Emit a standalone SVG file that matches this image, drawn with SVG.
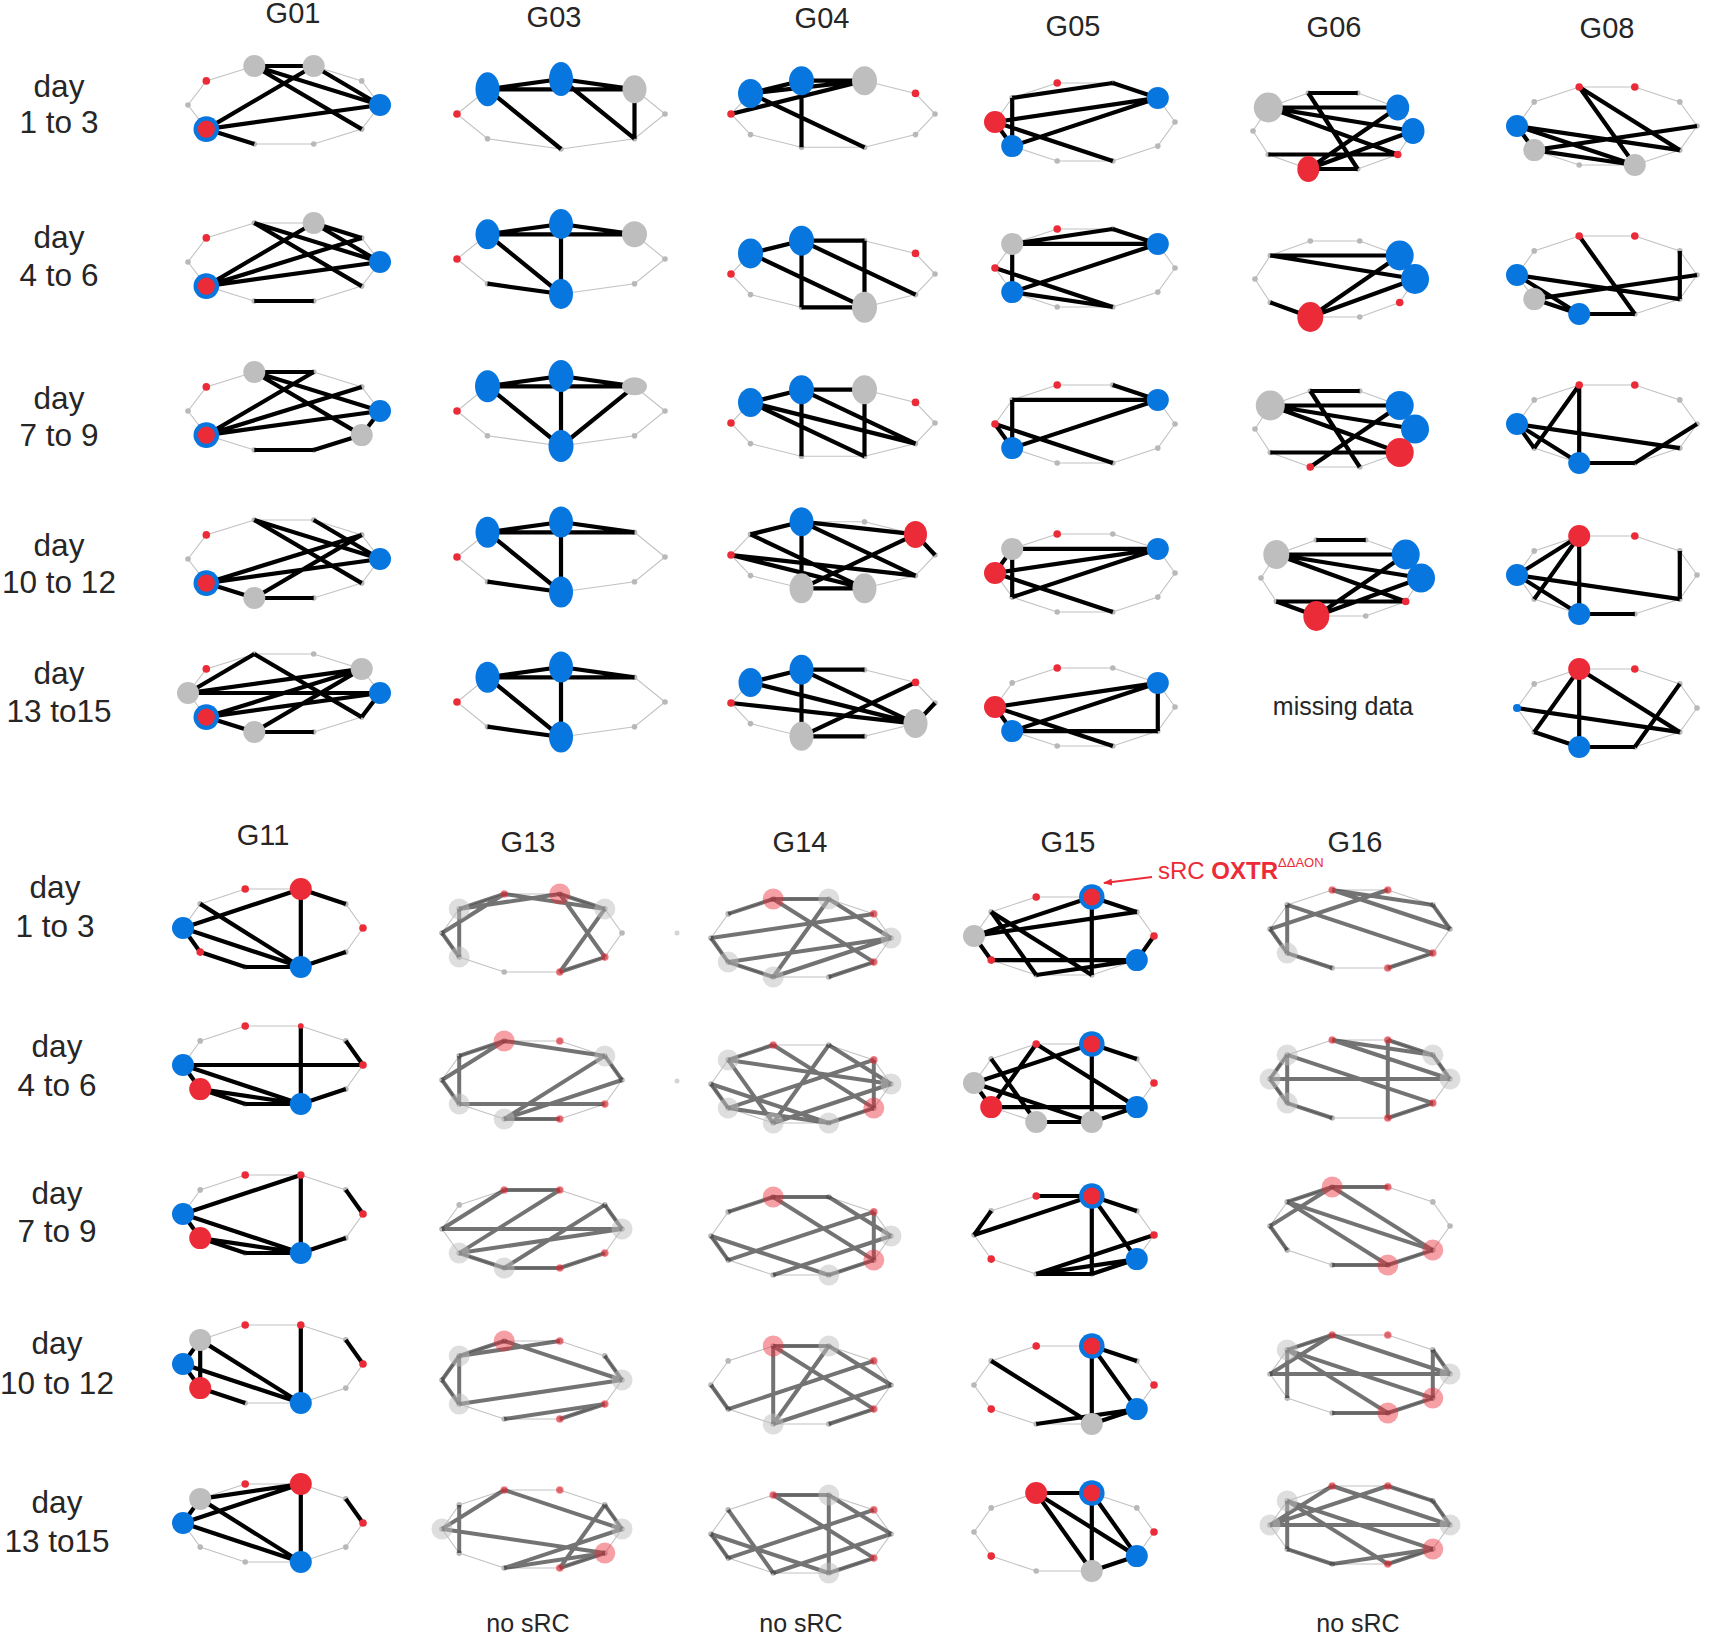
<svg xmlns="http://www.w3.org/2000/svg" width="1723" height="1634" viewBox="0 0 1723 1634">
<style>
text{font-family:"Liberation Sans",Arial,sans-serif;fill:#262626}
.ttl{font-size:29px;text-anchor:middle}
.row{font-size:31.5px;text-anchor:middle}
.note{font-size:25px;text-anchor:middle}
.ring{fill:none;stroke:#c2c2c2;stroke-width:1.1}
.sd{fill:#b8b8b8}
.e{fill:none;stroke:#000;stroke-width:4.2}
.et{fill:none;stroke:#000;stroke-opacity:.55;stroke-width:4}
.b{fill:#0876df}
.g{fill:#bebebe}
.r{fill:#ec2b38}
.rs{fill:#ec2b38}
.lg{fill:#bebebe;fill-opacity:.5}
.lp{fill:#ec2b38;fill-opacity:.45}
.ps{fill:#ec2b38;fill-opacity:.6}
.fd{fill:#d4d4d4}
</style>
<defs>
<polygon id="ringA" class="ring" points="90,0 72.8,-24.1 27.8,-39 -27.8,-39 -72.8,-24.1 -90,0 -72.8,24.1 -27.8,39 27.8,39 72.8,24.1"/>
<polygon id="ringB" class="ring" points="96,0 77.7,-24.1 29.7,-39 -29.7,-39 -77.7,-24.1 -96,0 -77.7,24.1 -29.7,39 29.7,39 77.7,24.1"/>
<polygon id="ringC" class="ring" points="102,0 82.5,-20.6 31.5,-33.3 -31.5,-33.3 -82.5,-20.6 -102,0 -82.5,20.6 -31.5,33.3 31.5,33.3 82.5,20.6"/>
<polygon id="ringD" class="ring" points="80,0 64.7,-23.5 24.7,-38 -24.7,-38 -64.7,-23.5 -80,0 -64.7,23.5 -24.7,38 24.7,38 64.7,23.5"/>
<polygon id="ringO" class="ring" points="104,0 73.5,-24.7 0,-35 -73.5,-24.7 -104,0 -73.5,24.7 0,35 73.5,24.7"/>
<g id="dotsA" class="sd"><circle cx="90" cy="0" r="2.8"/><circle cx="72.8" cy="-24.1" r="2.8"/><circle cx="27.8" cy="-39" r="2.8"/><circle cx="-27.8" cy="-39" r="2.8"/><circle cx="-72.8" cy="-24.1" r="2.8"/><circle cx="-90" cy="0" r="2.8"/><circle cx="-72.8" cy="24.1" r="2.8"/><circle cx="-27.8" cy="39" r="2.8"/><circle cx="27.8" cy="39" r="2.8"/><circle cx="72.8" cy="24.1" r="2.8"/></g>
<g id="dotsB" class="sd"><circle cx="96" cy="0" r="2.8"/><circle cx="77.7" cy="-24.1" r="2.8"/><circle cx="29.7" cy="-39" r="2.8"/><circle cx="-29.7" cy="-39" r="2.8"/><circle cx="-77.7" cy="-24.1" r="2.8"/><circle cx="-96" cy="0" r="2.8"/><circle cx="-77.7" cy="24.1" r="2.8"/><circle cx="-29.7" cy="39" r="2.8"/><circle cx="29.7" cy="39" r="2.8"/><circle cx="77.7" cy="24.1" r="2.8"/></g>
<g id="dotsC" class="sd"><circle cx="102" cy="0" r="2.8"/><circle cx="82.5" cy="-20.6" r="2.8"/><circle cx="31.5" cy="-33.3" r="2.8"/><circle cx="-31.5" cy="-33.3" r="2.8"/><circle cx="-82.5" cy="-20.6" r="2.8"/><circle cx="-102" cy="0" r="2.8"/><circle cx="-82.5" cy="20.6" r="2.8"/><circle cx="-31.5" cy="33.3" r="2.8"/><circle cx="31.5" cy="33.3" r="2.8"/><circle cx="82.5" cy="20.6" r="2.8"/></g>
<g id="dotsD" class="sd"><circle cx="80" cy="0" r="2.8"/><circle cx="64.7" cy="-23.5" r="2.8"/><circle cx="24.7" cy="-38" r="2.8"/><circle cx="-24.7" cy="-38" r="2.8"/><circle cx="-64.7" cy="-23.5" r="2.8"/><circle cx="-80" cy="0" r="2.8"/><circle cx="-64.7" cy="23.5" r="2.8"/><circle cx="-24.7" cy="38" r="2.8"/><circle cx="24.7" cy="38" r="2.8"/><circle cx="64.7" cy="23.5" r="2.8"/></g>
<g id="dotsO" class="sd"><circle cx="104" cy="0" r="2.8"/><circle cx="73.5" cy="-24.7" r="2.8"/><circle cx="0" cy="-35" r="2.8"/><circle cx="-73.5" cy="-24.7" r="2.8"/><circle cx="-104" cy="0" r="2.8"/><circle cx="-73.5" cy="24.7" r="2.8"/><circle cx="0" cy="35" r="2.8"/><circle cx="73.5" cy="24.7" r="2.8"/></g>
<circle id="nb" class="b" r="11"/>
<circle id="ng" class="g" r="11"/>
<circle id="nr" class="r" r="11"/>
<circle id="nrs" class="rs" r="3.8"/>
<g id="nrb"><circle class="b" r="12.8"/><circle class="r" r="8.6"/></g>
<circle id="nlg" class="lg" r="10.5"/>
<circle id="nlp" class="lp" r="10.5"/>
<circle id="nps" class="ps" r="3.8"/>
<marker id="arr" markerUnits="userSpaceOnUse" markerWidth="9" markerHeight="7" refX="8" refY="3.5" orient="auto"><path d="M0,0 L9,3.5 L0,7 z" fill="#ec2b38"/></marker>
</defs>
<rect width="1723" height="1634" fill="#fff"/>

<g id="titles">
<text class="ttl" x="293" y="23">G01</text>
<text class="ttl" x="554" y="27">G03</text>
<text class="ttl" x="822" y="28">G04</text>
<text class="ttl" x="1073" y="36">G05</text>
<text class="ttl" x="1334" y="37">G06</text>
<text class="ttl" x="1607" y="38">G08</text>
<text class="ttl" x="263" y="845">G11</text>
<text class="ttl" x="528" y="852">G13</text>
<text class="ttl" x="800" y="852">G14</text>
<text class="ttl" x="1068" y="852">G15</text>
<text class="ttl" x="1355" y="852">G16</text>
</g>
<g id="rowlabels">
<text class="row" x="59" y="97">day</text><text class="row" x="59" y="133">1 to 3</text>
<text class="row" x="59" y="248">day</text><text class="row" x="59" y="286">4 to 6</text>
<text class="row" x="59" y="409">day</text><text class="row" x="59" y="446">7 to 9</text>
<text class="row" x="59" y="556">day</text><text class="row" x="59" y="593">10 to 12</text>
<text class="row" x="59" y="684">day</text><text class="row" x="59" y="722">13 to15</text>
<text class="row" x="55" y="898">day</text><text class="row" x="55" y="937">1 to 3</text>
<text class="row" x="57" y="1057">day</text><text class="row" x="57" y="1096">4 to 6</text>
<text class="row" x="57" y="1204">day</text><text class="row" x="57" y="1242">7 to 9</text>
<text class="row" x="57" y="1354">day</text><text class="row" x="57" y="1394">10 to 12</text>
<text class="row" x="57" y="1513">day</text><text class="row" x="57" y="1552">13 to15</text>
</g>

<!-- G01 -->
<g id="G01-r1" transform="translate(284,105)"><use href="#ringB"/><use href="#dotsB"/>
<path class="e" d="M-29.7,-39L29.7,-39M-29.7,-39L96,0M-29.7,-39L77.7,24.1M29.7,-39L96,0M29.7,-39L-77.7,24.1M-77.7,24.1L96,0M-77.7,24.1L-29.7,39"/>
<use href="#ng" x="-29.7" y="-39"/><use href="#ng" x="29.7" y="-39"/><use href="#nb" x="96" y="0"/><use href="#nrb" x="-77.7" y="24.1"/><use href="#nrs" x="-77.7" y="-24.1"/></g>
<g id="G01-r2" transform="translate(284,262)"><use href="#ringB"/><use href="#dotsB"/>
<path class="e" d="M-29.7,-39L96,0M-29.7,-39L77.7,24.1M29.7,-39L77.7,-24.1M29.7,-39L96,0M-77.7,24.1L29.7,-39M-77.7,24.1L77.7,-24.1M-77.7,24.1L96,0M-29.7,39L29.7,39"/>
<use href="#ng" x="29.7" y="-39"/><use href="#nb" x="96" y="0"/><use href="#nrb" x="-77.7" y="24.1"/><use href="#nrs" x="-77.7" y="-24.1"/></g>
<g id="G01-r3" transform="translate(284,411)"><use href="#ringB"/><use href="#dotsB"/>
<path class="e" d="M-29.7,-39L29.7,-39M-29.7,-39L96,0M-29.7,-39L77.7,24.1M29.7,-39L-77.7,24.1M-77.7,24.1L77.7,-24.1M-77.7,24.1L96,0M77.7,24.1L96,0M-29.7,39L29.7,39M29.7,39L77.7,24.1"/>
<use href="#ng" x="-29.7" y="-39"/><use href="#ng" x="77.7" y="24.1"/><use href="#nb" x="96" y="0"/><use href="#nrb" x="-77.7" y="24.1"/><use href="#nrs" x="-77.7" y="-24.1"/></g>
<g id="G01-r4" transform="translate(284,559)"><use href="#ringB"/><use href="#dotsB"/>
<path class="e" d="M-29.7,-39L96,0M-29.7,-39L77.7,24.1M29.7,-39L96,0M-77.7,24.1L77.7,-24.1M-77.7,24.1L96,0M-29.7,39L77.7,-24.1M-29.7,39L29.7,39M-77.7,24.1L-29.7,39"/>
<use href="#nb" x="96" y="0"/><use href="#ng" x="-29.7" y="39"/><use href="#nrb" x="-77.7" y="24.1"/><use href="#nrs" x="-77.7" y="-24.1"/></g>
<g id="G01-r5" transform="translate(284,693)"><use href="#ringB"/><use href="#dotsB"/>
<path class="e" d="M-96,0L-29.7,-39M-29.7,-39L77.7,24.1M-96,0L77.7,-24.1M-96,0L96,0M-77.7,24.1L77.7,-24.1M-77.7,24.1L96,0M-29.7,39L77.7,-24.1M-29.7,39L29.7,39M77.7,24.1L96,0M-77.7,24.1L-29.7,39"/>
<use href="#ng" x="77.7" y="-24.1"/><use href="#nb" x="96" y="0"/><use href="#ng" x="-29.7" y="39"/><use href="#ng" x="-96" y="0"/><use href="#nrb" x="-77.7" y="24.1"/><use href="#nrs" x="-77.7" y="-24.1"/></g>

<!-- G03 -->
<g id="G03-r1" transform="translate(561,114)"><use href="#ringO"/><use href="#dotsO"/>
<path class="e" d="M-73.5,-24.7L0,-35M-73.5,-24.7L73.5,-24.7M0,-35L73.5,-24.7M-73.5,-24.7L0,35M0,-35L73.5,24.7M73.5,-24.7L73.5,24.7"/>
<ellipse class="b" cx="-73.5" cy="-24.7" rx="12" ry="17"/><ellipse class="b" cx="0" cy="-35" rx="12" ry="17"/><ellipse class="g" cx="73.5" cy="-24.7" rx="12" ry="14"/><use href="#nrs" x="-104" y="0"/></g>
<g id="G03-r2" transform="translate(561,259)"><use href="#ringO"/><use href="#dotsO"/>
<path class="e" d="M-73.5,-24.7L0,-35M-73.5,-24.7L73.5,-24.7M0,-35L73.5,-24.7M0,-35L0,35M-73.5,-24.7L0,35M-73.5,24.7L0,35"/>
<ellipse class="b" cx="-73.5" cy="-24.7" rx="12" ry="15"/><ellipse class="b" cx="0" cy="-35" rx="12" ry="15"/><ellipse class="g" cx="73.5" cy="-24.7" rx="12.5" ry="13"/><ellipse class="b" cx="0" cy="35" rx="12" ry="15"/><use href="#nrs" x="-104" y="0"/></g>
<g id="G03-r3" transform="translate(561,411)"><use href="#ringO"/><use href="#dotsO"/>
<path class="e" d="M-73.5,-24.7L0,-35M-73.5,-24.7L73.5,-24.7M0,-35L73.5,-24.7M0,-35L0,35M-73.5,-24.7L0,35M73.5,-24.7L0,35"/>
<ellipse class="b" cx="-73.5" cy="-24.7" rx="12.5" ry="16"/><ellipse class="b" cx="0" cy="-35" rx="12.5" ry="16"/><ellipse class="g" cx="73.5" cy="-24.7" rx="12.5" ry="9"/><ellipse class="b" cx="0" cy="35" rx="12.5" ry="16"/><use href="#nrs" x="-104" y="0"/></g>
<g id="G03-r4" transform="translate(561,557)"><use href="#ringO"/><use href="#dotsO"/>
<path class="e" d="M-73.5,-24.7L0,-35M-73.5,-24.7L73.5,-24.7M0,-35L73.5,-24.7M0,-35L0,35M-73.5,-24.7L0,35M-73.5,24.7L0,35"/>
<ellipse class="b" cx="-73.5" cy="-24.7" rx="12" ry="15.5"/><ellipse class="b" cx="0" cy="-35" rx="12" ry="15.5"/><ellipse class="b" cx="0" cy="35" rx="12" ry="15.5"/><use href="#nrs" x="-104" y="0"/></g>
<g id="G03-r5" transform="translate(561,702)"><use href="#ringO"/><use href="#dotsO"/>
<path class="e" d="M-73.5,-24.7L0,-35M-73.5,-24.7L73.5,-24.7M0,-35L73.5,-24.7M0,-35L0,35M-73.5,-24.7L0,35M-73.5,24.7L0,35"/>
<ellipse class="b" cx="-73.5" cy="-24.7" rx="12" ry="15.5"/><ellipse class="b" cx="0" cy="-35" rx="12" ry="15.5"/><ellipse class="b" cx="0" cy="35" rx="12" ry="15.5"/><use href="#nrs" x="-104" y="0"/></g>

<!-- G04 -->
<g id="G04-r1" transform="translate(833,114)"><use href="#ringC"/><use href="#dotsC"/>
<path class="e" d="M-82.5,-20.6L-31.5,-33.3M-82.5,-20.6L31.5,-33.3M-31.5,-33.3L31.5,-33.3M-102,0L31.5,-33.3M-31.5,-33.3L-31.5,33.3M-82.5,-20.6L31.5,33.3"/>
<ellipse class="b" cx="-82.5" cy="-20.6" rx="12.5" ry="14.5"/><ellipse class="b" cx="-31.5" cy="-33.3" rx="12.5" ry="14.5"/><ellipse class="g" cx="31.5" cy="-33.3" rx="12.5" ry="14.5"/><use href="#nrs" x="82.5" y="-20.6"/><use href="#nrs" x="-102" y="0"/></g>
<g id="G04-r2" transform="translate(833,274)"><use href="#ringC"/><use href="#dotsC"/>
<path class="e" d="M-82.5,-20.6L-31.5,-33.3M-31.5,-33.3L31.5,-33.3M31.5,-33.3L31.5,33.3M-31.5,-33.3L-31.5,33.3M-31.5,33.3L31.5,33.3M-82.5,-20.6L31.5,33.3M-31.5,-33.3L82.5,20.6"/>
<ellipse class="b" cx="-82.5" cy="-20.6" rx="12.5" ry="15"/><ellipse class="b" cx="-31.5" cy="-33.3" rx="12.5" ry="15"/><ellipse class="g" cx="31.5" cy="33.3" rx="12.5" ry="15.5"/><use href="#nrs" x="82.5" y="-20.6"/><use href="#nrs" x="-102" y="0"/></g>
<g id="G04-r3" transform="translate(833,423)"><use href="#ringC"/><use href="#dotsC"/>
<path class="e" d="M-82.5,-20.6L-31.5,-33.3M-31.5,-33.3L31.5,-33.3M-82.5,-20.6L82.5,20.6M-82.5,-20.6L31.5,33.3M-31.5,-33.3L82.5,20.6M-31.5,-33.3L-31.5,33.3M31.5,-33.3L31.5,33.3"/>
<ellipse class="b" cx="-82.5" cy="-20.6" rx="12.5" ry="14.5"/><ellipse class="b" cx="-31.5" cy="-33.3" rx="12.5" ry="14.5"/><ellipse class="g" cx="31.5" cy="-33.3" rx="12.5" ry="14.5"/><use href="#nrs" x="82.5" y="-20.6"/><use href="#nrs" x="-102" y="0"/></g>
<g id="G04-r4" transform="translate(833,555)"><use href="#ringC"/><use href="#dotsC"/>
<path class="e" d="M-82.5,-20.6L-31.5,-33.3M-31.5,-33.3L82.5,-20.6M-31.5,-33.3L82.5,20.6M-102,0L82.5,20.6M-82.5,-20.6L31.5,33.3M-102,0L31.5,33.3M-31.5,-33.3L-31.5,33.3M-31.5,33.3L31.5,33.3M82.5,-20.6L-31.5,33.3M82.5,-20.6L102,0"/>
<ellipse class="b" cx="-31.5" cy="-33.3" rx="12" ry="14.5"/><ellipse class="r" cx="82.5" cy="-20.6" rx="11.5" ry="13.5"/><use href="#nrs" x="-102" y="0"/><ellipse class="g" cx="-31.5" cy="33.3" rx="12" ry="15"/><ellipse class="g" cx="31.5" cy="33.3" rx="12" ry="15"/></g>
<g id="G04-r5" transform="translate(833,703)"><use href="#ringC"/><use href="#dotsC"/>
<path class="e" d="M-82.5,-20.6L-31.5,-33.3M-31.5,-33.3L31.5,-33.3M-31.5,-33.3L-31.5,33.3M-82.5,-20.6L82.5,20.6M-31.5,-33.3L82.5,20.6M-102,0L82.5,20.6M-31.5,33.3L31.5,33.3M-31.5,33.3L82.5,-20.6M102,0L82.5,20.6"/>
<ellipse class="b" cx="-82.5" cy="-20.6" rx="12" ry="14.5"/><ellipse class="b" cx="-31.5" cy="-33.3" rx="12" ry="15"/><use href="#nrs" x="-102" y="0"/><use href="#nrs" x="82.5" y="-20.6"/><ellipse class="g" cx="-31.5" cy="33.3" rx="12" ry="14.5"/><ellipse class="g" cx="82.5" cy="20.6" rx="12" ry="14.5"/></g>

<!-- G05 -->
<g id="G05-r1" transform="translate(1085,122)"><use href="#ringA"/><use href="#dotsA"/>
<path class="e" d="M-72.8,-24.1L27.8,-39M27.8,-39L72.8,-24.1M-72.8,-24.1L-72.8,24.1M-90,0L72.8,-24.1M-72.8,24.1L72.8,-24.1M-90,0L27.8,39M-90,0L-72.8,24.1"/>
<use href="#nr" x="-90" y="0"/><use href="#nb" x="-72.8" y="24.1"/><use href="#nb" x="72.8" y="-24.1"/><use href="#nrs" x="-27.8" y="-39"/></g>
<g id="G05-r2" transform="translate(1085,268)"><use href="#ringA"/><use href="#dotsA"/>
<path class="e" d="M-72.8,-24.1L27.8,-39M27.8,-39L72.8,-24.1M-72.8,-24.1L72.8,-24.1M-72.8,-24.1L-72.8,24.1M-72.8,24.1L72.8,-24.1M-90,0L27.8,39M-72.8,24.1L27.8,39"/>
<use href="#ng" x="-72.8" y="-24.1"/><use href="#nrs" x="-27.8" y="-39"/><use href="#nb" x="72.8" y="-24.1"/><use href="#nb" x="-72.8" y="24.1"/><use href="#nrs" x="-90" y="0"/></g>
<g id="G05-r3" transform="translate(1085,424)"><use href="#ringA"/><use href="#dotsA"/>
<path class="e" d="M-72.8,-24.1L72.8,-24.1M27.8,-39L72.8,-24.1M-72.8,-24.1L-72.8,24.1M-72.8,24.1L72.8,-24.1M-90,0L27.8,39M-90,0L-72.8,24.1"/>
<use href="#nrs" x="-27.8" y="-39"/><use href="#nb" x="72.8" y="-24.1"/><use href="#nb" x="-72.8" y="24.1"/><use href="#nrs" x="-90" y="0"/></g>
<g id="G05-r4" transform="translate(1085,573)"><use href="#ringA"/><use href="#dotsA"/>
<path class="e" d="M-72.8,-24.1L72.8,-24.1M-90,0L72.8,-24.1M-72.8,-24.1L-72.8,24.1M-72.8,24.1L72.8,-24.1M-90,0L27.8,39M-72.8,-24.1L-90,0"/>
<use href="#ng" x="-72.8" y="-24.1"/><use href="#nrs" x="-27.8" y="-39"/><use href="#nb" x="72.8" y="-24.1"/><use href="#nr" x="-90" y="0"/></g>
<g id="G05-r5" transform="translate(1085,707)"><use href="#ringA"/><use href="#dotsA"/>
<path class="e" d="M-90,0L72.8,-24.1M-72.8,24.1L72.8,-24.1M-72.8,24.1L72.8,24.1M72.8,-24.1L72.8,24.1M-90,0L27.8,39M-90,0L-72.8,24.1"/>
<use href="#nrs" x="-27.8" y="-39"/><use href="#nb" x="72.8" y="-24.1"/><use href="#nb" x="-72.8" y="24.1"/><use href="#nr" x="-90" y="0"/></g>

<!-- G06 -->
<g id="G06-r1" transform="translate(1333,131)"><use href="#ringD"/><use href="#dotsD"/>
<path class="e" d="M-24.7,-38L24.7,-38M-64.7,-23.5L64.7,-23.5M-64.7,-23.5L80,0M-64.7,-23.5L64.7,23.5M-24.7,-38L24.7,38M-64.7,23.5L64.7,23.5M-24.7,38L64.7,-23.5M-24.7,38L80,0M-24.7,38L24.7,38"/>
<ellipse class="g" cx="-64.7" cy="-23.5" rx="14.5" ry="15"/><ellipse class="b" cx="64.7" cy="-23.5" rx="11.5" ry="13"/><ellipse class="b" cx="80" cy="0" rx="11.5" ry="13"/><use href="#nrs" x="64.7" y="23.5"/><ellipse class="r" cx="-24.7" cy="38" rx="11" ry="13"/></g>
<g id="G06-r2" transform="translate(1335,279)"><use href="#ringD"/><use href="#dotsD"/>
<path class="e" d="M-64.7,-23.5L64.7,-23.5M-64.7,-23.5L80,0M-64.7,23.5L-24.7,38M-24.7,38L64.7,-23.5M-24.7,38L80,0"/>
<ellipse class="b" cx="64.7" cy="-23.5" rx="14" ry="15"/><ellipse class="b" cx="80" cy="0" rx="14" ry="15"/><use href="#nrs" x="64.7" y="23.5"/><ellipse class="r" cx="-24.7" cy="38" rx="13" ry="15"/></g>
<g id="G06-r3" transform="translate(1335,429)"><use href="#ringD"/><use href="#dotsD"/>
<path class="e" d="M-24.7,-38L24.7,-38M-64.7,-23.5L64.7,-23.5M-64.7,-23.5L80,0M-64.7,-23.5L64.7,23.5M-24.7,-38L24.7,38M-64.7,23.5L64.7,23.5M-24.7,38L64.7,-23.5"/>
<ellipse class="g" cx="-64.7" cy="-23.5" rx="14.5" ry="15"/><ellipse class="b" cx="64.7" cy="-23.5" rx="14" ry="14.5"/><ellipse class="b" cx="80" cy="0" rx="14" ry="14.5"/><ellipse class="r" cx="64.7" cy="23.5" rx="14" ry="14.5"/><use href="#nrs" x="-24.7" y="38"/></g>
<g id="G06-r4" transform="translate(1341,578)"><use href="#ringD"/><use href="#dotsD"/>
<path class="e" d="M-24.7,-38L24.7,-38M-64.7,-23.5L64.7,-23.5M-64.7,-23.5L80,0M-64.7,-23.5L64.7,23.5M-64.7,23.5L64.7,23.5M-24.7,38L64.7,-23.5M-24.7,38L80,0M-64.7,23.5L-24.7,38"/>
<ellipse class="g" cx="-64.7" cy="-23.5" rx="13" ry="14.5"/><ellipse class="b" cx="64.7" cy="-23.5" rx="14" ry="15"/><ellipse class="b" cx="80" cy="0" rx="14" ry="14.5"/><use href="#nrs" x="64.7" y="23.5"/><ellipse class="r" cx="-24.7" cy="38" rx="13" ry="15"/></g>
<g id="G06-r5"><text class="note" x="1343" y="715">missing data</text></g>

<!-- G08 -->
<g id="G08-r1" transform="translate(1607,126)"><use href="#ringA"/><use href="#dotsA"/>
<path class="e" d="M-27.8,-39L72.8,24.1M-27.8,-39L27.8,39M-90,0L72.8,24.1M-90,0L27.8,39M-72.8,24.1L90,0M-72.8,24.1L27.8,39M-90,0L-72.8,24.1"/>
<use href="#nrs" x="-27.8" y="-39"/><use href="#nrs" x="27.8" y="-39"/><use href="#ng" x="27.8" y="39"/><use href="#ng" x="-72.8" y="24.1"/><use href="#nb" x="-90" y="0"/></g>
<g id="G08-r2" transform="translate(1607,275)"><use href="#ringA"/><use href="#dotsA"/>
<path class="e" d="M-27.8,-39L27.8,39M72.8,-24.1L72.8,24.1M-90,0L72.8,24.1M-72.8,24.1L90,0M-90,0L-27.8,39M-72.8,24.1L-27.8,39M-27.8,39L27.8,39"/>
<use href="#nrs" x="-27.8" y="-39"/><use href="#nrs" x="27.8" y="-39"/><use href="#ng" x="-72.8" y="24.1"/><use href="#nb" x="-27.8" y="39"/><use href="#nb" x="-90" y="0"/></g>
<g id="G08-r3" transform="translate(1607,424)"><use href="#ringA"/><use href="#dotsA"/>
<path class="e" d="M-27.8,-39L-27.8,39M-27.8,-39L-72.8,24.1M-90,0L72.8,24.1M-90,0L-72.8,24.1M-90,0L-27.8,39M-27.8,39L27.8,39M27.8,39L90,0"/>
<use href="#nrs" x="-27.8" y="-39"/><use href="#nrs" x="27.8" y="-39"/><use href="#nb" x="-27.8" y="39"/><use href="#nb" x="-90" y="0"/></g>
<g id="G08-r4" transform="translate(1607,575)"><use href="#ringA"/><use href="#dotsA"/>
<path class="e" d="M-27.8,-39L-90,0M-27.8,-39L-72.8,24.1M-27.8,-39L-27.8,39M72.8,-24.1L72.8,24.1M-90,0L72.8,24.1M-90,0L-27.8,39M-27.8,39L27.8,39"/>
<use href="#nr" x="-27.8" y="-39"/><use href="#nrs" x="27.8" y="-39"/><use href="#nb" x="-27.8" y="39"/><use href="#nb" x="-90" y="0"/></g>
<g id="G08-r5" transform="translate(1607,708)"><use href="#ringA"/><use href="#dotsA"/>
<path class="e" d="M-27.8,-39L-72.8,24.1M-27.8,-39L-27.8,39M-27.8,-39L72.8,24.1M72.8,-24.1L27.8,39M-90,0L72.8,24.1M-72.8,24.1L-27.8,39M-27.8,39L27.8,39"/>
<use href="#nr" x="-27.8" y="-39"/><use href="#nrs" x="27.8" y="-39"/><use href="#nb" x="-27.8" y="39"/><circle class="b" cx="-90" cy="0" r="4"/></g>

<!-- G11 -->
<g id="G11-r1" transform="translate(273,928)"><use href="#ringA"/><use href="#dotsA"/>
<path class="e" d="M-90,0L27.8,-39M27.8,-39L72.8,-24.1M27.8,-39L27.8,39M-72.8,-24.1L27.8,39M-90,0L27.8,39M-90,0L-72.8,24.1M-72.8,24.1L-27.8,39M-27.8,39L27.8,39M27.8,39L72.8,24.1"/>
<use href="#nr" x="27.8" y="-39"/><use href="#nrs" x="-27.8" y="-39"/><use href="#nb" x="-90" y="0"/><use href="#nrs" x="-72.8" y="24.1"/><use href="#nb" x="27.8" y="39"/><use href="#nrs" x="90" y="0"/></g>
<g id="G11-r2" transform="translate(273,1065)"><use href="#ringA"/><use href="#dotsA"/>
<path class="e" d="M27.8,-39L27.8,39M-90,0L90,0M72.8,-24.1L90,0M-90,0L27.8,39M-90,0L-72.8,24.1M-72.8,24.1L27.8,39M-72.8,24.1L-27.8,39M-27.8,39L27.8,39M27.8,39L72.8,24.1"/>
<circle class="rs" cx="27.8" cy="-39" r="2.8"/><use href="#nrs" x="-27.8" y="-39"/><use href="#nb" x="-90" y="0"/><use href="#nr" x="-72.8" y="24.1"/><use href="#nb" x="27.8" y="39"/><use href="#nrs" x="90" y="0"/></g>
<g id="G11-r3" transform="translate(273,1214)"><use href="#ringA"/><use href="#dotsA"/>
<path class="e" d="M-90,0L27.8,-39M27.8,-39L27.8,39M72.8,-24.1L90,0M-90,0L27.8,39M-90,0L-72.8,24.1M-72.8,24.1L27.8,39M-72.8,24.1L-27.8,39M-27.8,39L27.8,39M27.8,39L72.8,24.1"/>
<use href="#nrs" x="27.8" y="-39"/><use href="#nrs" x="-27.8" y="-39"/><use href="#nb" x="-90" y="0"/><use href="#nr" x="-72.8" y="24.1"/><use href="#nb" x="27.8" y="39"/><use href="#nrs" x="90" y="0"/></g>
<g id="G11-r4" transform="translate(273,1364)"><use href="#ringA"/><use href="#dotsA"/>
<path class="e" d="M27.8,-39L27.8,39M72.8,-24.1L90,0M-72.8,-24.1L-90,0M-72.8,-24.1L-72.8,24.1M-72.8,-24.1L27.8,39M-90,0L27.8,39M-90,0L-72.8,24.1M-72.8,24.1L-27.8,39"/>
<use href="#nrs" x="27.8" y="-39"/><use href="#nrs" x="-27.8" y="-39"/><use href="#ng" x="-72.8" y="-24.1"/><use href="#nb" x="-90" y="0"/><use href="#nr" x="-72.8" y="24.1"/><use href="#nb" x="27.8" y="39"/><use href="#nrs" x="90" y="0"/></g>
<g id="G11-r5" transform="translate(273,1523)"><use href="#ringA"/><use href="#dotsA"/>
<path class="e" d="M-72.8,-24.1L27.8,-39M-90,0L27.8,-39M27.8,-39L27.8,39M72.8,-24.1L90,0M-72.8,-24.1L27.8,39M-90,0L27.8,39M-72.8,-24.1L-90,0"/>
<use href="#nr" x="27.8" y="-39"/><use href="#nrs" x="-27.8" y="-39"/><use href="#ng" x="-72.8" y="-24.1"/><use href="#nb" x="-90" y="0"/><use href="#nb" x="27.8" y="39"/><use href="#nrs" x="90" y="0"/></g>

<!-- G13 -->
<g id="G13-r1" transform="translate(532,933)"><use href="#ringA"/><use href="#dotsA"/>
<path class="et" d="M-72.8,-24.1L-27.8,-39M-72.8,-24.1L27.8,-39M-27.8,-39L72.8,-24.1M27.8,-39L72.8,-24.1M-72.8,-24.1L-72.8,24.1M-90,0L-27.8,-39M-90,0L-72.8,24.1M27.8,-39L72.8,24.1M72.8,-24.1L27.8,39M27.8,39L72.8,24.1"/>
<use href="#nlp" x="27.8" y="-39"/><use href="#nps" x="-27.8" y="-39"/><use href="#nlg" x="-72.8" y="-24.1"/><use href="#nlg" x="-72.8" y="24.1"/><use href="#nps" x="27.8" y="39"/><use href="#nps" x="72.8" y="24.1"/><use href="#nlg" x="72.8" y="-24.1"/></g>
<g id="G13-r2" transform="translate(532,1080)"><use href="#ringA"/><use href="#dotsA"/>
<path class="et" d="M-72.8,-24.1L-27.8,-39M-27.8,-39L-90,0M-27.8,-39L72.8,-24.1M-72.8,-24.1L-72.8,24.1M-90,0L-72.8,24.1M72.8,-24.1L90,0M-72.8,24.1L72.8,24.1M-27.8,39L72.8,-24.1M-27.8,39L90,0M-27.8,39L27.8,39"/>
<use href="#nlp" x="-27.8" y="-39"/><use href="#nps" x="27.8" y="-39"/><use href="#nlg" x="72.8" y="-24.1"/><use href="#nps" x="72.8" y="24.1"/><use href="#nps" x="27.8" y="39"/><use href="#nlg" x="-27.8" y="39"/><use href="#nlg" x="-72.8" y="24.1"/></g>
<g id="G13-r3" transform="translate(532,1229)"><use href="#ringA"/><use href="#dotsA"/>
<path class="et" d="M-27.8,-39L27.8,-39M-27.8,-39L-90,0M-90,0L90,0M-72.8,24.1L27.8,-39M-72.8,24.1L90,0M-27.8,39L72.8,-24.1M72.8,-24.1L90,0M-72.8,24.1L-27.8,39M-27.8,39L27.8,39M27.8,39L72.8,24.1"/>
<use href="#nps" x="-27.8" y="-39"/><use href="#nps" x="27.8" y="-39"/><use href="#nlg" x="90" y="0"/><use href="#nps" x="72.8" y="24.1"/><use href="#nps" x="27.8" y="39"/><use href="#nlg" x="-27.8" y="39"/><use href="#nlg" x="-72.8" y="24.1"/></g>
<g id="G13-r4" transform="translate(532,1380)"><use href="#ringA"/><use href="#dotsA"/>
<path class="et" d="M-72.8,-24.1L-27.8,-39M-72.8,-24.1L27.8,-39M-27.8,-39L90,0M72.8,-24.1L90,0M-90,0L-72.8,-24.1M-72.8,-24.1L-72.8,24.1M-90,0L-72.8,24.1M-72.8,24.1L90,0M-27.8,39L72.8,24.1M27.8,39L72.8,24.1"/>
<use href="#nlp" x="-27.8" y="-39"/><use href="#nps" x="27.8" y="-39"/><use href="#nlg" x="90" y="0"/><use href="#nps" x="72.8" y="24.1"/><use href="#nps" x="27.8" y="39"/><use href="#nlg" x="-72.8" y="24.1"/><use href="#nlg" x="-72.8" y="-24.1"/></g>
<g id="G13-r5" transform="translate(532,1529)"><use href="#ringA"/><use href="#dotsA"/>
<path class="et" d="M-27.8,-39L-90,0M-27.8,-39L90,0M-72.8,-24.1L-72.8,24.1M-90,0L72.8,24.1M72.8,-24.1L90,0M72.8,-24.1L27.8,39M-27.8,39L90,0M-27.8,39L72.8,24.1M27.8,39L72.8,24.1"/>
<use href="#nps" x="-27.8" y="-39"/><use href="#nps" x="27.8" y="-39"/><use href="#nlg" x="90" y="0"/><use href="#nlp" x="72.8" y="24.1"/><use href="#nps" x="27.8" y="39"/><use href="#nlg" x="-90" y="0"/></g>

<!-- G14 -->
<g id="G14-r1" transform="translate(801,938)"><use href="#ringA"/><use href="#dotsA"/>
<path class="et" d="M-72.8,-24.1L-27.8,-39M-27.8,-39L27.8,-39M27.8,-39L90,0M27.8,-39L-27.8,39M-27.8,-39L72.8,24.1M-90,0L72.8,-24.1M-90,0L-72.8,24.1M-72.8,24.1L90,0M-72.8,24.1L-27.8,39M-27.8,39L90,0M27.8,39L72.8,24.1"/>
<use href="#nlp" x="-27.8" y="-39"/><use href="#nlg" x="27.8" y="-39"/><use href="#nps" x="72.8" y="-24.1"/><use href="#nlg" x="90" y="0"/><use href="#nps" x="72.8" y="24.1"/><use href="#nlg" x="-27.8" y="39"/><use href="#nlg" x="-72.8" y="24.1"/><circle class="fd" cx="-124" cy="-5" r="2.5"/></g>
<g id="G14-r2" transform="translate(801,1084)"><use href="#ringA"/><use href="#dotsA"/>
<path class="et" d="M-72.8,-24.1L-27.8,-39M-72.8,-24.1L90,0M-72.8,-24.1L-27.8,39M-27.8,-39L72.8,24.1M27.8,-39L-27.8,39M27.8,-39L90,0M72.8,-24.1L72.8,24.1M72.8,-24.1L-72.8,24.1M-90,0L-72.8,24.1M-90,0L27.8,39M-72.8,24.1L27.8,39M-27.8,39L90,0M27.8,39L72.8,24.1"/>
<use href="#nps" x="-27.8" y="-39"/><use href="#nps" x="72.8" y="-24.1"/><use href="#nlg" x="90" y="0"/><use href="#nlp" x="72.8" y="24.1"/><use href="#nlg" x="27.8" y="39"/><use href="#nlg" x="-27.8" y="39"/><use href="#nlg" x="-72.8" y="24.1"/><use href="#nlg" x="-72.8" y="-24.1"/><circle class="fd" cx="-124" cy="-3" r="2.5"/></g>
<g id="G14-r3" transform="translate(801,1236)"><use href="#ringA"/><use href="#dotsA"/>
<path class="et" d="M-72.8,-24.1L-27.8,-39M-27.8,-39L27.8,-39M-27.8,-39L72.8,24.1M27.8,-39L90,0M72.8,-24.1L-72.8,24.1M72.8,-24.1L72.8,24.1M-90,0L-72.8,24.1M-90,0L27.8,39M-27.8,39L90,0M27.8,39L72.8,24.1"/>
<use href="#nlp" x="-27.8" y="-39"/><use href="#nps" x="72.8" y="-24.1"/><use href="#nlg" x="90" y="0"/><use href="#nlp" x="72.8" y="24.1"/><use href="#nlg" x="27.8" y="39"/></g>
<g id="G14-r4" transform="translate(801,1385)"><use href="#ringA"/><use href="#dotsA"/>
<path class="et" d="M-27.8,-39L27.8,-39M-27.8,-39L-27.8,39M-27.8,-39L72.8,24.1M27.8,-39L-27.8,39M27.8,-39L90,0M72.8,-24.1L-72.8,24.1M-90,0L-72.8,24.1M-27.8,39L90,0M27.8,39L72.8,24.1"/>
<use href="#nlp" x="-27.8" y="-39"/><use href="#nlg" x="27.8" y="-39"/><use href="#nps" x="72.8" y="-24.1"/><use href="#nps" x="72.8" y="24.1"/><use href="#nlg" x="-27.8" y="39"/></g>
<g id="G14-r5" transform="translate(801,1534)"><use href="#ringA"/><use href="#dotsA"/>
<path class="et" d="M-27.8,-39L27.8,-39M-27.8,-39L72.8,24.1M27.8,-39L27.8,39M27.8,-39L90,0M-72.8,-24.1L-27.8,39M72.8,-24.1L-72.8,24.1M-90,0L-72.8,24.1M-90,0L27.8,39M-27.8,39L90,0M27.8,39L72.8,24.1"/>
<use href="#nps" x="-27.8" y="-39"/><use href="#nlg" x="27.8" y="-39"/><use href="#nps" x="72.8" y="-24.1"/><use href="#nps" x="72.8" y="24.1"/><use href="#nlg" x="27.8" y="39"/></g>

<!-- G15 -->
<g id="G15-r1" transform="translate(1064,936)"><use href="#ringA"/><use href="#dotsA"/>
<path class="e" d="M-90,0L27.8,-39M27.8,-39L72.8,-24.1M-90,0L72.8,-24.1M27.8,-39L27.8,39M-72.8,-24.1L-27.8,39M-72.8,-24.1L27.8,39M-90,0L-72.8,24.1M-72.8,24.1L72.8,24.1M-27.8,39L72.8,24.1M72.8,24.1L90,0"/>
<use href="#nrb" x="27.8" y="-39"/><use href="#nrs" x="-27.8" y="-39"/><use href="#ng" x="-90" y="0"/><use href="#nrs" x="-72.8" y="24.1"/><use href="#nb" x="72.8" y="24.1"/><use href="#nrs" x="90" y="0"/></g>
<g id="G15-r2" transform="translate(1064,1083)"><use href="#ringA"/><use href="#dotsA"/>
<path class="e" d="M-90,0L27.8,-39M27.8,-39L72.8,-24.1M27.8,-39L27.8,39M-27.8,-39L-72.8,24.1M-27.8,-39L72.8,24.1M-72.8,-24.1L-27.8,39M-90,0L27.8,39M-90,0L-72.8,24.1M-72.8,24.1L72.8,24.1M-27.8,39L27.8,39M27.8,39L72.8,24.1"/>
<use href="#nrb" x="27.8" y="-39"/><use href="#nrs" x="-27.8" y="-39"/><use href="#ng" x="-90" y="0"/><use href="#nr" x="-72.8" y="24.1"/><use href="#ng" x="-27.8" y="39"/><use href="#ng" x="27.8" y="39"/><use href="#nb" x="72.8" y="24.1"/><use href="#nrs" x="90" y="0"/></g>
<g id="G15-r3" transform="translate(1064,1235)"><use href="#ringA"/><use href="#dotsA"/>
<path class="e" d="M-27.8,-39L27.8,-39M27.8,-39L72.8,-24.1M-90,0L27.8,-39M-72.8,-24.1L-90,0M27.8,-39L27.8,39M27.8,-39L72.8,24.1M-27.8,39L90,0M-27.8,39L72.8,24.1M27.8,39L72.8,24.1M-27.8,39L27.8,39"/>
<use href="#nrb" x="27.8" y="-39"/><use href="#nrs" x="-27.8" y="-39"/><use href="#nrs" x="-72.8" y="24.1"/><use href="#nb" x="72.8" y="24.1"/><use href="#nrs" x="90" y="0"/></g>
<g id="G15-r4" transform="translate(1064,1385)"><use href="#ringA"/><use href="#dotsA"/>
<path class="e" d="M27.8,-39L72.8,-24.1M27.8,-39L27.8,39M27.8,-39L72.8,24.1M-72.8,-24.1L27.8,39M-27.8,39L72.8,24.1M27.8,39L72.8,24.1"/>
<use href="#nrb" x="27.8" y="-39"/><use href="#nrs" x="-27.8" y="-39"/><use href="#nrs" x="-72.8" y="24.1"/><use href="#ng" x="27.8" y="39"/><use href="#nb" x="72.8" y="24.1"/><use href="#nrs" x="90" y="0"/></g>
<g id="G15-r5" transform="translate(1064,1532)"><use href="#ringA"/><use href="#dotsA"/>
<path class="e" d="M-27.8,-39L27.8,-39M-27.8,-39L27.8,39M-27.8,-39L72.8,24.1M27.8,-39L27.8,39M27.8,-39L72.8,24.1M27.8,39L72.8,24.1"/>
<use href="#nrb" x="27.8" y="-39"/><use href="#nr" x="-27.8" y="-39"/><use href="#nrs" x="-72.8" y="24.1"/><use href="#ng" x="27.8" y="39"/><use href="#nb" x="72.8" y="24.1"/><use href="#nrs" x="90" y="0"/></g>

<!-- G16 -->
<g id="G16-r1" transform="translate(1360,929)"><use href="#ringA"/><use href="#dotsA"/>
<path class="et" d="M-27.8,-39L72.8,-24.1M-27.8,-39L90,0M72.8,-24.1L90,0M-90,0L27.8,-39M-72.8,-24.1L72.8,24.1M-72.8,-24.1L-72.8,24.1M-90,0L-72.8,24.1M-72.8,24.1L-27.8,39M27.8,39L72.8,24.1"/>
<use href="#nps" x="-27.8" y="-39"/><use href="#nps" x="27.8" y="-39"/><use href="#nps" x="72.8" y="24.1"/><use href="#nps" x="27.8" y="39"/><use href="#nlg" x="-72.8" y="24.1"/></g>
<g id="G16-r2" transform="translate(1360,1079)"><use href="#ringA"/><use href="#dotsA"/>
<path class="et" d="M-27.8,-39L72.8,-24.1M-27.8,-39L90,0M27.8,-39L72.8,-24.1M27.8,-39L27.8,39M-72.8,-24.1L72.8,24.1M-72.8,-24.1L-72.8,24.1M-90,0L90,0M-72.8,-24.1L-90,0M-90,0L-72.8,24.1M-72.8,24.1L-27.8,39M27.8,39L72.8,24.1M72.8,-24.1L90,0"/>
<use href="#nps" x="-27.8" y="-39"/><use href="#nps" x="27.8" y="-39"/><use href="#nlg" x="72.8" y="-24.1"/><use href="#nlg" x="90" y="0"/><use href="#nps" x="72.8" y="24.1"/><use href="#nps" x="27.8" y="39"/><use href="#nlg" x="-72.8" y="24.1"/><use href="#nlg" x="-90" y="0"/><use href="#nlg" x="-72.8" y="-24.1"/></g>
<g id="G16-r3" transform="translate(1360,1226)"><use href="#ringA"/><use href="#dotsA"/>
<path class="et" d="M-27.8,-39L27.8,-39M-27.8,-39L-90,0M-72.8,-24.1L-27.8,-39M-27.8,-39L72.8,24.1M-72.8,-24.1L72.8,24.1M-72.8,-24.1L27.8,39M-90,0L-72.8,24.1M-27.8,39L27.8,39M27.8,39L72.8,24.1"/>
<use href="#nlp" x="-27.8" y="-39"/><use href="#nps" x="27.8" y="-39"/><use href="#nlp" x="72.8" y="24.1"/><use href="#nlp" x="27.8" y="39"/></g>
<g id="G16-r4" transform="translate(1360,1374)"><use href="#ringA"/><use href="#dotsA"/>
<path class="et" d="M-27.8,-39L-90,0M-72.8,-24.1L-27.8,-39M-27.8,-39L90,0M72.8,-24.1L90,0M72.8,-24.1L72.8,24.1M-72.8,-24.1L72.8,24.1M-72.8,-24.1L27.8,39M-72.8,-24.1L-72.8,24.1M-90,0L90,0M-27.8,39L27.8,39M27.8,39L72.8,24.1"/>
<use href="#nps" x="-27.8" y="-39"/><use href="#nps" x="27.8" y="-39"/><use href="#nlg" x="90" y="0"/><use href="#nlp" x="72.8" y="24.1"/><use href="#nlp" x="27.8" y="39"/><use href="#nlg" x="-72.8" y="-24.1"/></g>
<g id="G16-r5" transform="translate(1360,1525)"><use href="#ringA"/><use href="#dotsA"/>
<path class="et" d="M-27.8,-39L-90,0M-27.8,-39L90,0M27.8,-39L-90,0M27.8,-39L72.8,-24.1M72.8,-24.1L90,0M-72.8,-24.1L72.8,24.1M-72.8,-24.1L27.8,39M-72.8,-24.1L-72.8,24.1M-90,0L90,0M-72.8,24.1L-27.8,39M-27.8,39L72.8,24.1M27.8,39L72.8,24.1"/>
<use href="#nps" x="-27.8" y="-39"/><use href="#nps" x="27.8" y="-39"/><use href="#nlg" x="90" y="0"/><use href="#nlp" x="72.8" y="24.1"/><use href="#nps" x="27.8" y="39"/><use href="#nlg" x="-90" y="0"/><use href="#nlg" x="-72.8" y="-24.1"/></g>

<g id="notes">
<text class="note" x="528" y="1632">no sRC</text>
<text class="note" x="801" y="1632">no sRC</text>
<text class="note" x="1358" y="1632">no sRC</text>
</g>
<g id="annotation">
<line x1="1152" y1="877" x2="1104" y2="883" stroke="#ec2b38" stroke-width="2" marker-end="url(#arr)"/>
<text x="1158" y="879" font-size="24" style="fill:#ec2b38">sRC <tspan font-weight="bold">OXTR</tspan><tspan font-size="13" dy="-12">ΔΔAON</tspan></text>
</g>
</svg>
